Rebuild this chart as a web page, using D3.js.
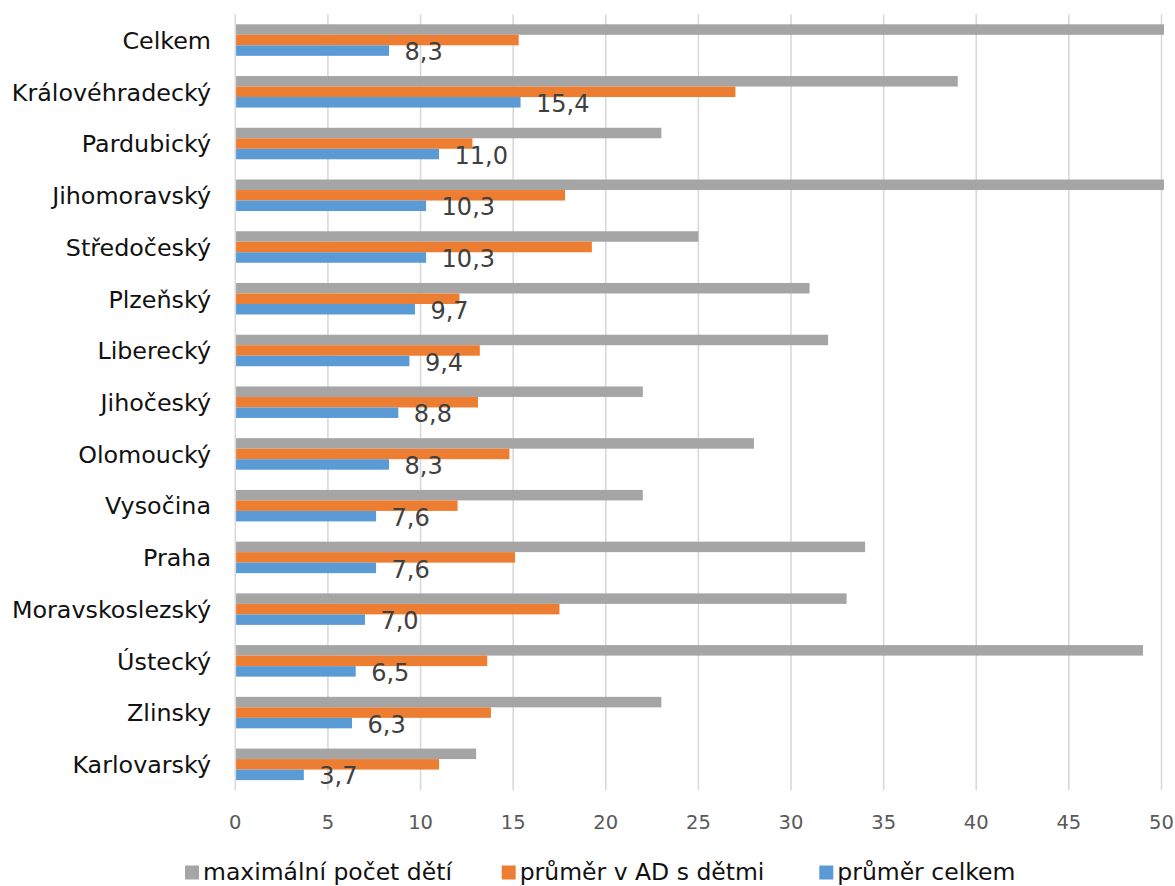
<!DOCTYPE html>
<html>
<head>
<meta charset="utf-8">
<script src="https://cdn.jsdelivr.net/npm/d3@7"></script>
<style>
  html, body { margin: 0; padding: 0; background: #fff; }
  svg { display: block; font-family: "DejaVu Sans", Verdana, sans-serif; }
</style>
</head>
<body>
<svg id="chart" width="1175" height="886"></svg>
<script>
// ---- data ----
const categories = ["Celkem", "Královéhradecký", "Pardubický", "Jihomoravský", "Středočeský",
  "Plzeňský", "Liberecký", "Jihočeský", "Olomoucký", "Vysočina", "Praha",
  "Moravskoslezský", "Ústecký", "Zlinsky", "Karlovarský"];
const seriesNames = ["maximální počet dětí", "průměr v AD s dětmi", "průměr celkem"];
const maxDeti   = [55, 39, 23, 55, 25, 31, 32, 22, 28, 22, 34, 33, 49, 23, 13];
const prumerAD  = [15.3, 27.0, 12.8, 17.8, 19.25, 12.1, 13.2, 13.1, 14.8, 12.0, 15.1, 17.5, 13.6, 13.8, 11.0];
const prumerCelkem = [8.3, 15.4, 11.0, 10.3, 10.3, 9.7, 9.4, 8.8, 8.3, 7.6, 7.6, 7.0, 6.5, 6.3, 3.7];
const xTicks = [0, 5, 10, 15, 20, 25, 30, 35, 40, 45, 50];
const colors = ["#A5A5A5", "#ED7D31", "#5B9BD5"];

const seriesValues = [maxDeti, prumerAD, prumerCelkem];

// ---- layout ----
const svg = d3.select("#chart");
const plot = { left: 235.3, right: 1161.5, top: 14.2, bottom: 790.2 };

const x = d3.scaleLinear().domain([0, 50]).range([plot.left, plot.right]);
const y = d3.scaleBand().domain(categories).range([plot.top, plot.bottom])
  .paddingInner(0.391).paddingOuter(0.1955);
const ySub = d3.scaleBand().domain(d3.range(3)).range([0, y.bandwidth()]);

svg.append("defs").append("clipPath").attr("id", "plotclip")
  .append("rect").attr("x", plot.left - 2).attr("y", 0)
  .attr("width", plot.right - plot.left + 4.5).attr("height", 886);

// gridlines
svg.append("g").selectAll("line").data(xTicks).join("line")
  .attr("x1", d => x(d)).attr("x2", d => x(d))
  .attr("y1", plot.top).attr("y2", plot.bottom)
  .attr("stroke", "#D9D9D9").attr("stroke-width", 1.6);

// bars
const groups = svg.append("g").attr("clip-path", "url(#plotclip)")
  .selectAll("g").data(categories).join("g")
  .attr("transform", d => `translate(0,${y(d)})`);

groups.selectAll("rect")
  .data((c, i) => seriesValues.map((vals, s) => ({ s, v: vals[i] })))
  .join("rect")
  .attr("x", x(0) + 0.8)
  .attr("y", d => ySub(d.s))
  .attr("width", d => x(d.v) - x(0) - 0.8)
  .attr("height", ySub.bandwidth())
  .attr("fill", d => colors[d.s]);

// value labels for "průměr celkem"
const fmt = v => d3.format(".1f")(v).replace(".", ",");
svg.append("g").selectAll("text").data(categories).join("text")
  .attr("x", (c, i) => x(prumerCelkem[i]) + 15.5)
  .attr("y", c => y(c) + ySub(2) + ySub.bandwidth() / 2)
  .attr("dy", "0.4em")
  .attr("font-size", 24)
  .attr("fill", "#404040")
  .text((c, i) => fmt(prumerCelkem[i]));

// category labels
svg.append("g").selectAll("text").data(categories).join("text")
  .attr("x", 211)
  .attr("y", c => y(c) + y.bandwidth() / 2)
  .attr("dy", "0.37em")
  .attr("text-anchor", "end")
  .attr("font-size", 23.8)
  .attr("fill", "#111")
  .text(c => c);

// x axis tick labels
svg.append("g").selectAll("text").data(xTicks).join("text")
  .attr("x", d => x(d))
  .attr("y", 829)
  .attr("text-anchor", "middle")
  .attr("font-size", 19.5)
  .attr("fill", "#595959")
  .text(d => d);

// legend
const legendX = [185, 501.7, 819.3];
const legend = svg.append("g").selectAll("g").data(seriesNames).join("g")
  .attr("transform", (d, i) => `translate(${legendX[i]},865.5)`);
legend.append("rect").attr("width", 14).attr("height", 14)
  .attr("fill", (d, i) => colors[i]);
legend.append("text").attr("x", 18).attr("y", 14.2)
  .attr("font-size", 23.5).attr("fill", "#111")
  .text(d => d);
</script>
</body>
</html>
